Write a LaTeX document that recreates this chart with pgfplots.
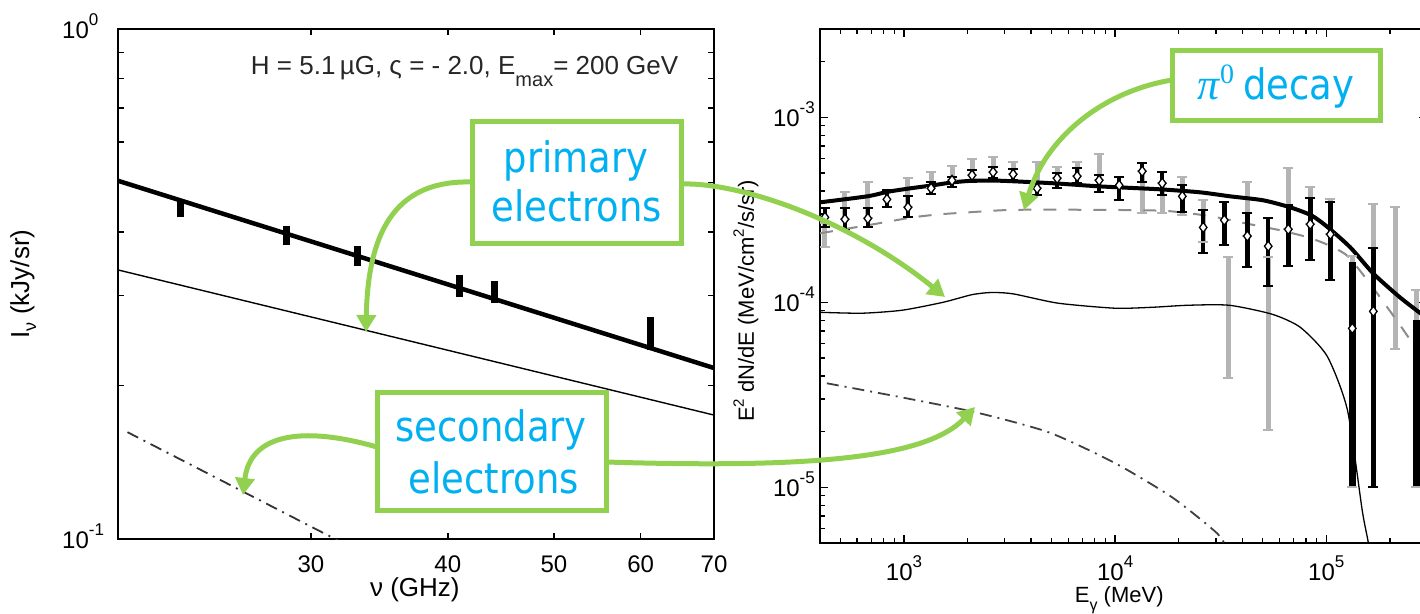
\documentclass[border=0pt]{standalone}
\usepackage{fontspec}
\setmainfont{Liberation Sans}
\newfontfamily\boxfont[FakeStretch=0.88]{DejaVu Sans}
\newfontfamily\pifont{Liberation Serif}
\usepackage{pgfplots}
\usepackage{pgfplotstable}
\pgfplotsset{compat=1.18}
\usetikzlibrary{arrows.meta}
\definecolor{pgreen}{RGB}{146,208,80}
\definecolor{pcyan}{RGB}{0,176,240}
\definecolor{barg}{RGB}{180,180,180}
\definecolor{dashg}{RGB}{140,140,140}
\newcommand{\fs}[1]{\fontsize{#1}{#1}\selectfont}
\newcommand{\tsup}[1]{\raisebox{13pt}{\fs{17}#1}}

% gray error bars: each bar = (x,lo) (x,hi), separated by nan rows
\pgfplotstableread{
x y
422 1.98e-4
422 2.67e-4
nan nan
525 2.81e-4
525 3.93e-4
nan nan
674 2.84e-4
674 4.45e-4
nan nan
1044 3.26e-4
1044 4.68e-4
nan nan
1343 4.13e-4
1343 5.05e-4
nan nan
1688 4.56e-4
1688 5.43e-4
nan nan
2099 4.86e-4
2099 5.93e-4
nan nan
2641 5.05e-4
2641 6.08e-4
nan nan
3286 4.92e-4
3286 5.71e-4
nan nan
4267 4.13e-4
4267 5.71e-4
nan nan
5309 4.68e-4
5309 5.37e-4
nan nan
6607 4.80e-4
6607 5.71e-4
nan nan
8395 4.56e-4
8395 6.31e-4
nan nan
13430 3.03e-4
13430 5.11e-4
nan nan
16710 3.03e-4
16710 4.40e-4
nan nan
20800 2.95e-4
20800 4.74e-4
nan nan
26130 2.11e-4
26130 3.56e-4
nan nan
34360 3.88e-5
34360 1.75e-4
nan nan
42270 2.28e-4
42270 4.45e-4
nan nan
53090 2.03e-5
53090 1.75e-4
nan nan
66070 2.48e-4
66070 5.30e-4
nan nan
83950 2.64e-4
83950 4.18e-4
nan nan
104500 2.33e-4
104500 3.60e-4
nan nan
132800 1.0e-5
132800 1.77e-4
nan nan
167000 1.0e-5
167000 3.39e-4
nan nan
212300 5.57e-5
212300 3.26e-4
nan nan
267000 1.0e-5
267000 1.16e-4
}\graybars

% black error bars
\pgfplotstableread{
x y
422 2.54e-4
422 3.22e-4
nan nan
525 2.45e-4
525 3.22e-4
nan nan
674 2.54e-4
674 3.22e-4
nan nan
830 3.26e-4
830 4.03e-4
nan nan
1044 2.88e-4
1044 3.74e-4
nan nan
1343 3.84e-4
1343 4.45e-4
nan nan
1688 4.18e-4
1688 4.74e-4
nan nan
2099 4.45e-4
2099 5.17e-4
nan nan
2641 4.68e-4
2641 5.37e-4
nan nan
3286 4.56e-4
3286 5.24e-4
nan nan
4267 3.79e-4
4267 4.45e-4
nan nan
5309 4.13e-4
5309 4.98e-4
nan nan
6607 4.40e-4
6607 5.30e-4
nan nan
8395 3.93e-4
8395 4.86e-4
nan nan
10450 3.56e-4
10450 4.74e-4
nan nan
13430 4.45e-4
13430 5.64e-4
nan nan
16710 3.79e-4
16710 5.05e-4
nan nan
20800 3.06e-4
20800 4.29e-4
nan nan
26130 1.84e-4
26130 3.14e-4
nan nan
32880 2.03e-4
32880 3.47e-4
nan nan
42270 1.55e-4
42270 3.03e-4
nan nan
53090 1.22e-4
53090 2.84e-4
nan nan
66070 1.58e-4
66070 3.35e-4
nan nan
83950 1.69e-4
83950 3.65e-4
nan nan
104500 1.32e-4
104500 3.47e-4
nan nan
167000 1.0e-5
167000 1.96e-4
}\blackbars

\pgfplotstableread{
x y
132800 1.0e-5
132800 1.65e-4
nan nan
267000 1.0e-5
267000 8.0e-5
}\thickbars

\pgfplotstableread{
x y
422 2.88e-4
525 2.81e-4
674 2.84e-4
830 3.60e-4
1044 3.26e-4
1343 4.13e-4
1688 4.56e-4
2099 4.86e-4
2641 5.05e-4
3286 4.92e-4
4267 4.13e-4
5309 4.68e-4
6607 4.80e-4
8395 4.56e-4
10450 4.29e-4
13430 5.11e-4
16710 4.40e-4
20800 3.74e-4
26130 2.54e-4
32880 2.78e-4
42270 2.28e-4
53090 2.01e-4
66070 2.48e-4
83950 2.64e-4
104500 2.33e-4
132800 7.23e-5
167000 8.93e-5
}\diamonds

\begin{document}
\begin{tikzpicture}[x=1pt,y=1pt]
\useasboundingbox (0,0) rectangle (1420,613);
\clip (0,0) rectangle (1420,613);

% ---------------- left panel ----------------
\begin{axis}[
  at={(118pt,74pt)}, anchor=south west, scale only axis,
  width=596pt, height=510pt,
  xmode=log, ymode=log, xmin=20, xmax=70, ymin=0.1, ymax=1,
  xtick={30,40,50,60,70}, xticklabels={30,40,50,60,70}, minor xtick={},
  ytick={0.1,1}, yticklabels={10\tsup{-1},10\tsup{0}},
  minor ytick={0.2,0.3,0.4,0.5,0.6,0.7,0.8,0.9},
  major tick length=6pt, minor tick length=6pt,
  tick style={black, line width=1.4pt},
  axis line style={line width=1.8pt},
  tick label style={font=\fs{24}},
  xticklabel style={anchor=base, yshift=-33pt, inner sep=0pt},
  yticklabel style={anchor=base west, xshift=-56pt, yshift=-9pt, inner sep=0pt},
  xlabel={ν (GHz)}, ylabel={I\raisebox{-7pt}{\fs{18}ν} (kJy/sr)},
  label style={font=\fs{26}},
  xlabel style={at={(axis description cs:0.498,-0.1137)}, anchor=base},
  ylabel style={at={(axis description cs:-0.159,0.5)}, anchor=center},
]
\addplot[black, line width=4.5pt] coordinates {(20,0.504) (70,0.2164)};
\addplot[black, line width=1.4pt] coordinates {(20,0.337) (70,0.175)};
\addplot[black!80, line width=1.8pt, dash pattern=on 12pt off 6pt on 2pt off 6pt]
  coordinates {(20.4,0.162) (32,0.0985)};
\addplot[black, line width=7pt, unbounded coords=jump] coordinates {
  (22.8,0.428) (22.8,0.459) (nan,nan)
  (28.5,0.377) (28.5,0.410) (nan,nan)
  (33.1,0.343) (33.1,0.3754) (nan,nan)
  (41.0,0.2987) (41.0,0.3294) (nan,nan)
  (44.1,0.290) (44.1,0.321) (nan,nan)
  (61.3,0.2348) (61.3,0.273)};
\node[anchor=base east, font=\fs{26}, text=black!85] at (axis description cs:0.946,0.910)
  {H = 5.1\,µG, ς = - 2.0, E\raisebox{-12pt}{\fs{20}max}= 200 GeV};
\end{axis}

% ---------------- right panel ----------------
\begin{axis}[
  at={(820pt,70pt)}, anchor=south west, scale only axis,
  width=607pt, height=514pt,
  xmode=log, ymode=log, xmin=400, xmax=3e5, ymin=5e-6, ymax=3e-3,
  xtick={1e3,1e4,1e5}, xticklabels={10\tsup{3},10\tsup{4},10\tsup{5}},
  minor xtick={500,600,700,800,900,2000,3000,4000,5000,6000,7000,8000,9000,20000,30000,40000,50000,60000,70000,80000,90000,200000},
  ytick={1e-5,1e-4,1e-3}, yticklabels={10\tsup{-5},10\tsup{-4},10\tsup{-3}},
  minor ytick={6e-6,7e-6,8e-6,9e-6,2e-5,3e-5,4e-5,5e-5,6e-5,7e-5,8e-5,9e-5,2e-4,3e-4,4e-4,5e-4,6e-4,7e-4,8e-4,9e-4,2e-3},
  major tick length=8pt, minor tick length=5pt,
  tick style={black, line width=1.4pt},
  axis line style={line width=1.8pt},
  tick label style={font=\fs{24}},
  xticklabel style={anchor=base, yshift=-37pt, inner sep=0pt},
  yticklabel style={anchor=base east, xshift=-5pt, yshift=-9pt, inner sep=0pt},
  xlabel={E\raisebox{-8pt}{\fs{16}γ} (MeV)},
  ylabel={E\raisebox{10pt}{\fs{15}2} dN/dE (MeV/cm\raisebox{10pt}{\fs{15}2}/s/sr)},
  label style={font=\fs{22}},
  xlabel style={at={(axis description cs:0.493,-0.115)}, anchor=base},
  ylabel style={at={(axis description cs:-0.122,0.471)}, anchor=center},
]
% gray error bars and caps
\addplot[barg, line width=5pt, unbounded coords=jump] table {\graybars};
\addplot[barg, only marks, mark=-, mark size=5pt, mark options={line width=2pt}] table {\graybars};
% model curves
\addplot[dashg, line width=2pt, dash pattern=on 13pt off 12pt, smooth, tension=0.4] coordinates {
(400,2.36e-4) (713,2.64e-4) (1104,2.88e-4) (1483,2.99e-4) (1990,3.06e-4) (3290,3.16e-4)
(8490,3.16e-4) (17260,3.12e-4) (28200,2.92e-4) (43600,2.64e-4) (60500,2.45e-4)
(81300,2.25e-4) (101000,2.05e-4) (126000,1.78e-4) (162000,1.25e-4) (224000,7.5e-5) (300000,4.6e-5)};
\addplot[black, line width=1.3pt, smooth, tension=0.4] coordinates {
(400,8.83e-5) (632,8.73e-5) (979,9.06e-5) (1531,1.0e-4) (2100,1.10e-4) (2600,1.13e-4)
(3300,1.11e-4) (5370,9.89e-5) (10000,9.29e-5) (15000,9.4e-5) (22180,9.64e-5) (34700,9.64e-5)
(55400,8.62e-5) (75300,7.33e-5) (101000,5.11e-5) (126000,2.61e-5) (148000,7.5e-6)
(158000,5.05e-6) (165000,3.5e-6)};
\addplot[black!75, line width=1.8pt, dash pattern=on 12pt off 6pt on 2pt off 6pt, smooth, tension=0.4] coordinates {
(431,3.65e-5) (979,3.06e-5) (2193,2.54e-5) (4864,1.98e-5) (10000,1.35e-5)
(18620,8.83e-6) (30410,5.64e-6) (34000,4.6e-6)};
\addplot[black, line width=4pt, smooth, tension=0.4] coordinates {
(400,3.47e-4) (670,3.74e-4) (840,3.96e-4) (1070,4.13e-4) (1370,4.29e-4) (1700,4.45e-4)
(2120,4.54e-4) (2850,4.54e-4) (5080,4.40e-4) (8490,4.23e-4) (16300,4.08e-4) (25300,3.93e-4)
(35000,3.74e-4) (50200,3.56e-4) (67500,3.26e-4) (85000,2.95e-4) (101000,2.56e-4)
(130000,1.98e-4) (167000,1.43e-4) (224000,1.06e-4) (300000,8.2e-5)};
% black error bars and caps
\addplot[black, line width=4.5pt, unbounded coords=jump] table {\blackbars};
\addplot[black, only marks, mark=-, mark size=5pt, mark options={line width=2pt}] table {\blackbars};
\addplot[black, line width=7.5pt, unbounded coords=jump] table {\thickbars};
% diamonds
\addplot[only marks, mark=diamond*, mark size=5pt,
  mark options={fill=white, draw=black, line width=1.3pt}] table {\diamonds};
\end{axis}

% ---------------- annotation boxes ----------------
\draw[pgreen, line width=5pt, fill=white] (472.5,369.5) rectangle (681.5,491.5);
\draw[pgreen, line width=5pt, fill=white] (377.5,102.5) rectangle (606.5,220.5);
\draw[pgreen, line width=5pt, fill=white] (1172.5,492.5) rectangle (1380.5,562.5);
\node[anchor=base, text=pcyan, font=\boxfont\fs{42}, inner sep=0pt] at (576,440) {primary};
\node[anchor=base, text=pcyan, font=\boxfont\fs{42}, inner sep=0pt] at (577,391) {electrons};
\node[anchor=base, text=pcyan, font=\boxfont\fs{42}, inner sep=0pt] at (491,171) {secondary};
\node[anchor=base, text=pcyan, font=\boxfont\fs{42}, inner sep=0pt] at (494,120) {electrons};
\node[anchor=base, text=pcyan, inner sep=0pt] at (1276,513)
  {{\pifont\itshape\fs{44}π}\raisebox{16pt}{\pifont\fs{28}0}\hspace{9pt}{\boxfont\fs{42}decay}};

% ---------------- arrows ----------------
\begin{scope}[pgreen, line width=5pt, arrows={-Triangle[length=17pt,width=19pt]}]
\draw (472,431) .. controls (400,433) and (368,388) .. (366,281);
\draw (681,429) .. controls (740,431) and (850,393) .. (945,316);
\draw (1172,533) .. controls (1100,521) and (1045,473) .. (1024,403);
\draw (377,166) .. controls (300,188) and (250,178) .. (243,118);
\draw (606,151) .. controls (800,145) and (925,153) .. (975,206);
\end{scope}
\end{tikzpicture}
\end{document}
